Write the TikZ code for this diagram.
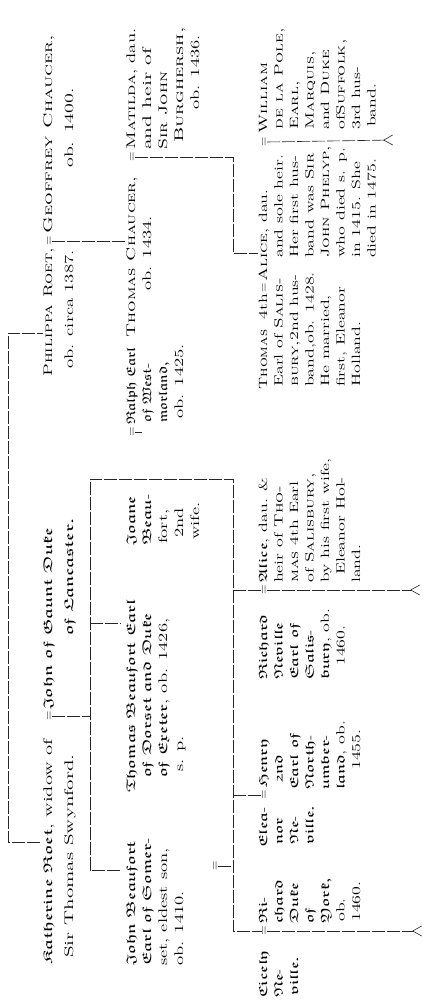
\documentclass[tikz,border=0pt]{standalone}
\usepackage{graphicx}
\usetikzlibrary{arrows.meta}
\newcommand\rfac{1.5}
\newcommand\gfac{1.6}
\newcommand\cfac{1.45}
\newcommand\Rr[1]{\scalebox{\rfac}[1]{#1}}
\newcommand\Gg[1]{\scalebox{\gfac}[1]{\usefont{U}{euf}{m}{n}\spaceskip=3.6pt\relax #1}}
\newcommand\Cc[1]{\scalebox{\cfac}[1]{\textsc{#1}}}
\newcommand\hy{\scalebox{1.3}[1]{-}}
\begin{document}
\begin{tikzpicture}[x=1pt,y=1pt,
  t/.style={rotate=90,anchor=base west,inner sep=0pt,font=\fontsize{12.5}{15}\selectfont},
  tc/.style={rotate=90,anchor=base west,inner sep=0pt,font=\fontsize{12}{14}\selectfont},
  te/.style={rotate=90,anchor=base east,inner sep=0pt,font=\fontsize{12}{14}\selectfont},
  eq/.style={rotate=90,anchor=base,inner sep=0pt,font=\fontsize{12.5}{15}\selectfont},
  ln/.style={line width=0.6pt,black!85,dash pattern=on 13pt off 2pt},
  fork/.style={-{Straight Barb[reversed,length=9pt,width=10pt]}}]
\begin{scope}[yshift=-1008pt]
\fill[white] (0,0) rectangle (433,1008);
\useasboundingbox (0,0) rectangle (433,1008);
% ---- Row A
\node[t] (kath) at (52,43) {\renewcommand\gfac{1.7}\renewcommand\rfac{1.65}\Gg{Katherine Roet}\Rr{, widow of}};
\node[eq] (eqkj) at (52,292) {=};
\node[t] (john) at (52,298) {\renewcommand\gfac{1.7}\Gg{John of Gaunt Duke}};
\node[t] (kath2) at (73,50) {\renewcommand\rfac{1.7}\Rr{Sir Thomas Swynford.}};
\node[t] (john2) at (73,372) {\renewcommand\gfac{1.7}\Gg{of Lancaster.}};
\node[t] (phil) at (52,631) {\renewcommand\cfac{1.4}\Cc{Philippa Roet,}};
\node[eq] (eqpg) at (52,767) {=};
\node[t] (geof) at (52,774) {\renewcommand\cfac{1.6}\Cc{Geoffrey Chaucer,}};
\node[t] (phil2) at (73,639) {\Rr{ob. circa 1387.}};
\node[t] (geof2) at (73,840) {\renewcommand\rfac{1.6}\Rr{ob. 1400.}};
% ---- Row B
\node[t] (jb1) at (135,42) {\Gg{John Beaufort}};
\node[t] (jb2) at (151,42) {\Gg{Earl of Somer}\hy};
\node[t] (jb3) at (167,42) {\Rr{set, eldest son,}};
\node[t] (jb4) at (183,42) {\Rr{ob. 1410.}};
\node[eq] (eqjb) at (218,142) {=};
\node[t] (tb1) at (135,215) {\Gg{Thomas Beaufort Earl}};
\node[t] (tb2) at (151,230) {\Gg{of Dorset and Duke}};
\node[t] (tb3) at (167,230) {\Gg{of Exeter}\Rr{, ob. 1426,}};
\node[t] (tb4) at (183,236) {\Rr{s. p.}};
\node[t] (jo1) at (135,462) {\Gg{Joane}};
\node[t] (jo2) at (151,462) {\Gg{Beau}\hy};
\node[t] (jo3) at (167,464) {\Rr{fort,}};
\node[t] (jo4) at (183,470) {\Rr{2nd}};
\node[t] (jo5) at (199,468) {\Rr{wife.}};
\node[eq] (eqjr) at (135,576) {=};
\node[t] (ra1) at (135,583) {\renewcommand\gfac{1.3}\Gg{Ralph Earl}};
\node[t] (ra2) at (151,585) {\renewcommand\gfac{1.3}\Gg{of West}\hy};
\node[t] (ra3) at (167,585) {\renewcommand\gfac{1.3}\Gg{morland,}};
\node[t] (ra4) at (183,589) {\Rr{ob. 1425.}};
\node[t] (tc1) at (135,670) {\Cc{Thomas Chaucer,}};
\node[t] (tc2) at (151,717) {\Rr{ob. 1434.}};
\node[eq] (eqtm) at (135,851) {=};
\node[t] (ma1) at (135,858) {\Cc{Matilda}\Rr{, dau.}};
\node[t] (ma2) at (151,858) {\renewcommand\rfac{1.75}\Rr{and heir of}};
\node[t] (ma3) at (167,858) {\Cc{Sir John}};
\node[t] (ma4) at (183,865) {\renewcommand\cfac{1.6}\Cc{Burghersh,}};
\node[t] (ma5) at (199,898) {\Rr{ob. 1436.}};
% ---- Row C
\node[tc] (cy1) at (267,10) {\Gg{Cicely}};
\node[tc] (cy2) at (282.5,10) {\Gg{Ne}\hy};
\node[tc] (cy3) at (298,12) {\Gg{ville.}};
\node[eq] (eqcy) at (267,77) {=};
\node[tc] (ry1) at (267,84) {\Gg{Ri}\hy};
\node[tc] (ry2) at (282.5,84) {\Gg{chard}};
\node[tc] (ry3) at (298,84) {\Gg{Duke}};
\node[tc] (ry4) at (313.5,84) {\Gg{of}};
\node[tc] (ry5) at (329,84) {\Gg{York,}};
\node[tc] (ry6) at (344.5,86) {\Rr{ob.}};
\node[tc] (ry7) at (360,86) {\Rr{1460.}};
\node[tc] (el1) at (267,160) {\Gg{Elea}\hy};
\node[tc] (el2) at (282.5,163) {\Gg{nor}};
\node[tc] (el3) at (298,163) {\Gg{Ne}\hy};
\node[tc] (el4) at (313.5,163) {\Gg{ville.}};
\node[eq] (eqeh) at (267,213) {=};
\node[tc] (he1) at (267,220) {\Gg{Henry}};
\node[tc] (he2) at (282.5,224) {\Gg{2nd}};
\node[tc] (he3) at (298,218) {\Gg{Earl of}};
\node[tc] (he4) at (313.5,218) {\Gg{North}\hy};
\node[tc] (he5) at (329,218) {\Gg{umber}\hy};
\node[tc] (he6) at (344.5,218) {\Gg{land}\Rr{, ob.}};
\node[tc] (he7) at (360,238) {\Rr{1455.}};
\node[tc] (rn1) at (267,328) {\Gg{Richard}};
\node[tc] (rn2) at (282.5,328) {\Gg{Neville}};
\node[tc] (rn3) at (298,328) {\Gg{Earl of}};
\node[tc] (rn4) at (313.5,328) {\Gg{Salis}\hy};
\node[tc] (rn5) at (329,328) {\Gg{bury}\Rr{, ob.}};
\node[tc] (rn6) at (344.5,342) {\Rr{1460.}};
\node[eq] (eqra) at (267,418) {=};
\node[tc] (am1) at (267,425) {\Gg{Alice}\Rr{, dau. \&}};
\node[tc] (am2) at (282.5,425) {\Rr{heir of }\Cc{Tho-}};
\node[tc] (am3) at (298,425) {\Cc{mas}\Rr{ 4th Earl}};
\node[tc] (am4) at (313.5,425) {\Rr{of }\Cc{Salisbury,}};
\node[tc] (am5) at (329,425) {\Rr{by his first wife,}};
\node[tc] (am6) at (344.5,433) {\Rr{Eleanor Hol-}};
\node[tc] (am7) at (360,425) {\Rr{land.}};
\node[tc] (tm1) at (267,618) {\renewcommand\cfac{1.3}\Cc{Thomas}};
\node[te] (tm1b) at (267,714) {\Rr{4th}};
\node[tc] (tm2) at (282.5,621) {\Rr{Earl of }\Cc{Salis-}};
\node[tc] (tm3) at (298,621) {\Cc{bury,}\Rr{2nd hus-}};
\node[tc] (tm4) at (313.5,621) {\Rr{band,ob. 1428.}};
\node[tc] (tm5) at (329,621) {\Rr{He married,}};
\node[tc] (tm6) at (344.5,621) {\Rr{first, Eleanor}};
\node[tc] (tm7) at (360,621) {\Rr{Holland.}};
\node[eq] (eqta) at (267,720) {=};
\node[tc] (ac1) at (267,726) {\Cc{Alice}\Rr{, dau.}};
\node[tc] (ac2) at (282.5,750) {\Rr{and sole heir.}};
\node[tc] (ac3) at (298,750) {\Rr{Her first hus-}};
\node[tc] (ac4) at (313.5,750) {\Rr{band was }\Cc{Sir}};
\node[tc] (ac5) at (329,750) {\renewcommand\cfac{1.4}\Cc{John Phelyp,}};
\node[tc] (ac6) at (344.5,750) {\Rr{who died s. p.}};
\node[tc] (ac7) at (360,750) {\Rr{in 1415. She}};
\node[tc] (ac8) at (375.5,750) {\Rr{died in 1475.}};
\node[eq] (eqaw) at (267,866) {=};
\node[tc] (wp1) at (267,874) {\Cc{William}};
\node[tc] (wp2) at (282.5,878) {\Cc{de la Pole,}};
\node[tc] (wp3) at (298,878) {\Cc{Earl,}};
\node[tc] (wp4) at (313.5,878) {\Cc{Marquis,}};
\node[tc] (wp5) at (329,878) {\Rr{and }\Cc{Duke}};
\node[tc] (wp6) at (344.5,878) {\Rr{of}\Cc{Suffolk,}};
\node[tc] (wp7) at (360,878) {\Rr{3rd hus-}};
\node[tc] (wp8) at (375.5,881) {\Rr{band.}};
% ---- coordinates
\coordinate (s1) at (8,166);
\coordinate (s2) at (8,675);
\coordinate (b1) at (90,138);
\coordinate (b2) at (90,529);
\coordinate (tbt) at (90,385);
\coordinate (c1) at (233,529);
\coordinate (c2) at (233,77);
\coordinate (ce) at (233,213);
\coordinate (cr) at (233,418);
\coordinate (ta) at (233,755);
\coordinate (jrs) at (142,576);
\coordinate (fcy) at (422,77);
\coordinate (fra) at (420,418);
\coordinate (faw) at (393,868);
% ---- connectors
\draw[ln,shorten <=3pt] (s1 -| kath.north) -- (s1) -- (s2) -- (s2 -| phil.north);
\draw[ln] (eqkj.south) -- (eqkj.south -| b1);
\draw[ln,shorten <=6pt] (b1 -| jb1.north) -- (b1) -- (b2) -- (c1) -- (c2) -- (eqcy.north);
\draw[ln,shorten >=6pt] (tbt) -- (tbt -| tb1.north);
\draw[ln] (eqjb.south) -- (eqjb.south -| c1);
\draw[ln] (ce) -- (eqeh.north);
\draw[ln] (cr) -- (eqra.north);
\draw[ln] (eqjr.south) -- (jrs);
\draw[ln] (eqpg.south) -- (eqpg.south -| tc1.north);
\draw[ln] (eqtm.south) -- (eqtm.south -| ta) -- (ta) -- (ta -| ac1.north);
\draw[ln,fork] (eqcy.south) -- (fcy);
\draw[ln,fork] (eqra.south) -- (fra);
\draw[ln,fork] (eqaw.south) -- (faw);
\end{scope}
\end{tikzpicture}
\end{document}
